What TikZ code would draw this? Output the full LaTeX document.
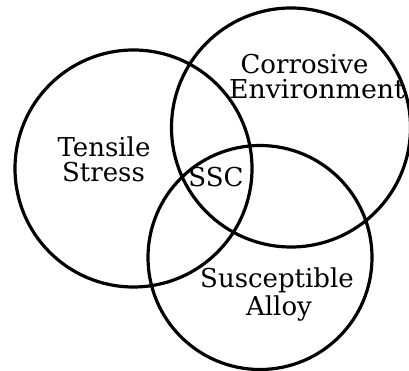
\documentclass[tikz,border=0pt]{standalone}
\usepackage{fontspec}
\setmainfont{DejaVu Serif}
\begin{document}
\begin{tikzpicture}[x=1pt,y=-1pt,
  ring/.style={draw=black, line width=3.2pt},
  lbl/.style={anchor=base, inner sep=0pt, text=black, font=\fontsize{26}{26}\selectfont}]
\useasboundingbox (0,0) rectangle (409,371);
\node[ring, circle, minimum size=237pt, inner sep=0pt] (tens) at (133.5,168.5) {};
\node[ring, circle, minimum size=239pt, inner sep=0pt] (corr) at (291,127.5) {};
\node[ring, circle, minimum size=224pt, inner sep=0pt] (allo) at (260,257.5) {};
\node[lbl] (t1) at (104,157) {Tensile};
\node[lbl] (t2) at (103.5,182) {Stress};
\node[lbl] (c1) at (304.5,74) {Corrosive};
\node[lbl, xscale=1.03] (c2) at (317,98.5) {Environment};
\node[lbl] (ssc) at (216,187) {SSC};
\node[lbl] (a1) at (277,287) {Susceptible};
\node[lbl] (a2) at (279,315) {Alloy};
\end{tikzpicture}
\end{document}
